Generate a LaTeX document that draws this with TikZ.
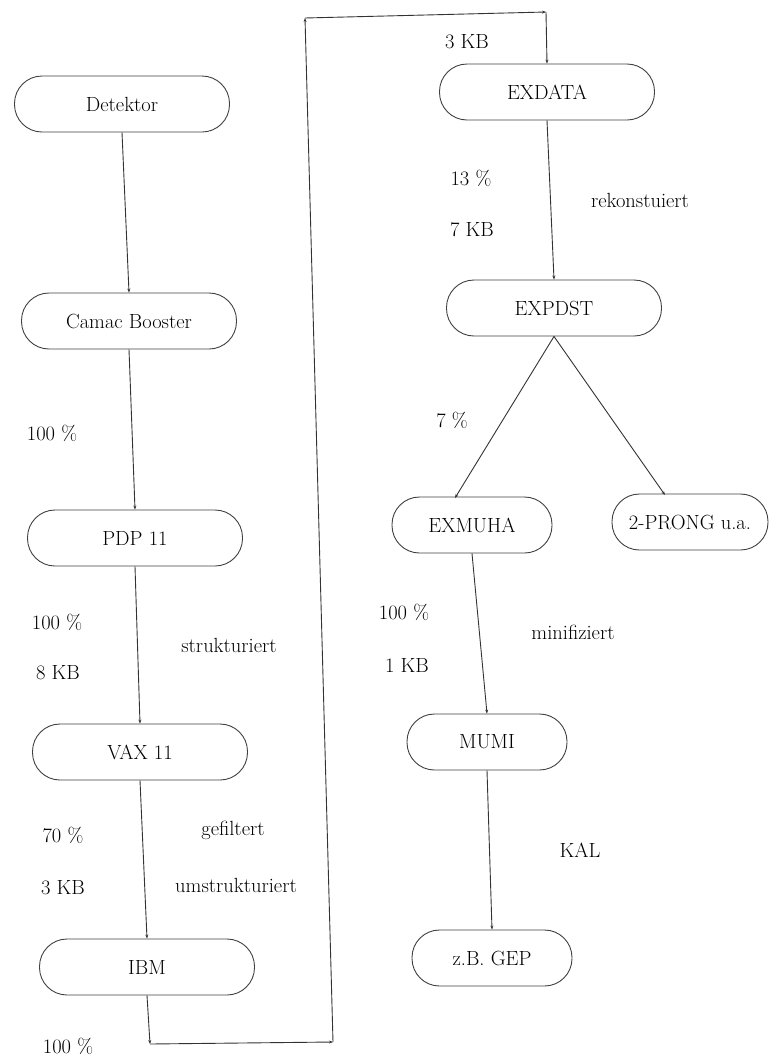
\documentclass[tikz,border=0pt]{standalone}
\usetikzlibrary{arrows.meta}
\begin{document}
\begin{tikzpicture}[x=1pt,y=-1pt,
  every node/.style={font=\fontsize{20.5}{24}\selectfont, text=black},
  box/.style={draw=black!75, line width=0.9pt, rounded corners=27.5pt, minimum width=215pt, minimum height=56pt, inner sep=0pt},
  sbox/.style={box, minimum width=160pt},
  conn/.style={draw=black!80, line width=0.9pt, -{Stealth[length=4pt,width=3pt]}}]
\useasboundingbox (0,0) rectangle (769,1061);
% left column
\node[box] (det) at (122,104) {Detektor};
\node[box] (cam) at (129,321) {Camac Booster};
\node[box] (pdp) at (135,538) {PDP 11};
\node[box] (vax) at (140,752) {VAX 11};
\node[box] (ibm) at (147,967) {IBM};
% right column
\node[box] (exd) at (547,92) {EXDATA};
\node[box] (exp) at (554,308) {EXPDST};
\node[sbox] (exm) at (472,525) {EXMUHA};
\node[sbox, minimum width=156pt] (pro) at (690,522) {2-PRONG u.a.};
\node[sbox] (mumi) at (487,742) {MUMI};
\node[sbox] (gep) at (492,958) {z.B. GEP};
% loop corner coordinates
\coordinate (c1) at (150,1044);
\coordinate (c2) at (333,1042);
\coordinate (c3) at (305,18);
\coordinate (c4) at (546,12);
% connectors
\draw[conn] (det.south) -- (cam.north);
\draw[conn] (cam.south) -- (pdp.north);
\draw[conn] (pdp.south) -- (vax.north);
\draw[conn] (vax.south) -- (ibm.north);
\draw[conn] (ibm.south) -- (c1);
\draw[conn] (c1) -- (c2);
\draw[conn] (c2) -- (c3);
\draw[conn] (c3) -- (c4);
\draw[conn] (c4) -- (exd.north);
\draw[conn] (exd.south) -- (exp.north);
\draw[conn] (exp.south) -- (455,498);
\draw[conn] (exp.south) -- (665,495);
\draw[conn] (exm.south) -- (mumi.north);
\draw[conn] (mumi.south) -- (gep.north);
% labels
\node (l1) at (52,433) {100 \%};
\node (l2) at (57,622) {100 \%};
\node (l3) at (58,673) {8 KB};
\node (l4) at (229,645) {strukturiert};
\node (l5) at (63,835) {70 \%};
\node (l6) at (63,888) {3 KB};
\node (l7) at (233,830) {gefiltert};
\node (l8) at (236,885) {umstrukturiert};
\node (l9) at (68,1046) {100 \%};
\node (l10) at (467,42) {3 KB};
\node (l11) at (471,178) {13 \%};
\node (l12) at (472,230) {7 KB};
\node (l13) at (640,200) {rekonstuiert};
\node (l14) at (452,420) {7 \%};
\node (l15) at (404,612) {100 \%};
\node (l16) at (407,665) {1 KB};
\node (l17) at (573,632) {minifiziert};
\node (l18) at (580,850) {KAL};
\end{tikzpicture}
\end{document}
